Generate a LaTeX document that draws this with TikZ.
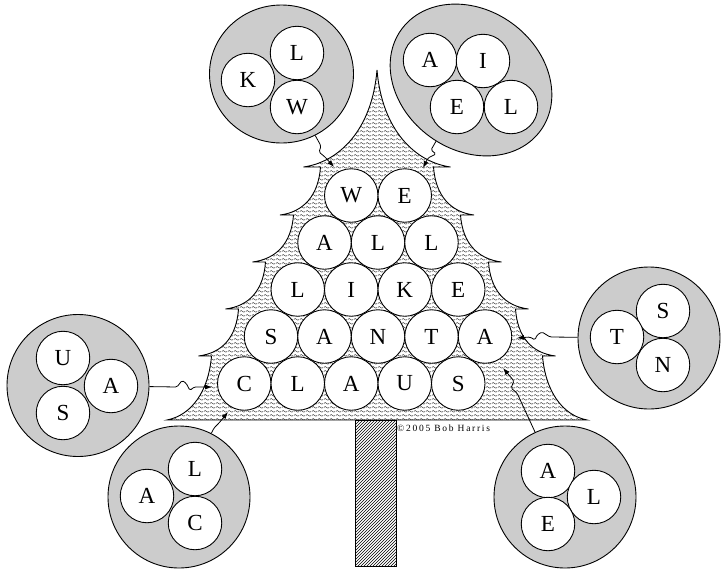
\documentclass[tikz,border=0pt]{standalone}
\usepackage{fontspec}
\setmainfont{Liberation Serif}
\usepackage{tikz}
\usetikzlibrary{shapes,shapes.geometric,arrows.meta,patterns,patterns.meta}
\tikzdeclarepattern{
  name=waves,
  type=uncolored,
  bounding box={(0pt,0pt) and (6pt,4pt)},
  tile size={(6pt,4pt)},
  code={
    \draw[line width=0.5pt] (0pt,2pt) .. controls (1.5pt,3.4pt) .. (3pt,2pt) .. controls (4.5pt,0.6pt) .. (6pt,2pt);
  }
}
\tikzset{
  circL/.style={ draw, circle, fill=white, line width=0.9pt, minimum size=53.5pt, inner sep=0pt, font=\fontsize{23}{23}\selectfont }
}
\tikzset{
  circG/.style={ draw, circle, fill=black!20, line width=0.9pt, minimum size=142pt, inner sep=0pt }
}
\tikzset{
  ellG/.style={ draw, ellipse, fill=black!20, line width=0.9pt, inner sep=0pt }
}
\tikzset{
  wig/.style={ line width=0.8pt, rounded corners=1.5pt, -{Latex[length=7pt,width=5pt]} }
}

\begin{document}
\begin{tikzpicture}[x=1pt, y=-1pt]
      \useasboundingbox (0,0) rectangle (728,576);
      % tree
      \draw[line width=0.9pt, pattern=waves, pattern color=black!90]
        (377,70) .. controls (382,130) and (415,162) .. (450.5,167) -- (433.5,167)
        .. controls +(2,28) and +(-24,-3) .. (474,215) -- (460.5,215)
        .. controls +(2,28) and +(-24,-3) .. (501.5,262) -- (488.5,262)
        .. controls +(2,28) and +(-24,-3) .. (528.5,309) -- (515.5,309)
        .. controls +(2,28) and +(-24,-3) .. (555.5,356) -- (542.5,356)
        .. controls +(3,35) and +(-25,-5) .. (587,420) -- (167,420)
        .. controls +(25,-5) and +(-3,35) .. (211.5,356) -- (198.5,356)
        .. controls +(24,-3) and +(-2,28) .. (238.5,309) -- (225.5,309)
        .. controls +(24,-3) and +(-2,28) .. (265.5,262) -- (252.5,262)
        .. controls +(24,-3) and +(-2,28) .. (293.5,215) -- (280,215)
        .. controls +(24,-3) and +(-2,28) .. (320.5,167) -- (303.5,167)
        .. controls (339,162) and (372,130) .. (377,70) -- cycle;
      \draw[line width=0.9pt, pattern=north east lines] (355,420) rectangle (396,566);
      \node[anchor=base west, inner sep=0pt, font=\fontsize{9.5}{10}\selectfont\addfontfeature{LetterSpace=18}] (copy) at (397,431) {\textcopyright2005 Bob Harris};
      % letters on the tree
      \node[circL] (we1) at (351.25,195.5) {W};
      \node[circL] (we2) at (404.75,195.5) {E};
      \node[circL] (all1) at (324.5,242.5) {A};
      \node[circL] (all2) at (378,242.5) {L};
      \node[circL] (all3) at (431.5,242.5) {L};
      \node[circL] (like1) at (297.75,289.5) {L};
      \node[circL] (like2) at (351.25,289.5) {I};
      \node[circL] (like3) at (404.75,289.5) {K};
      \node[circL] (like4) at (458.25,289.5) {E};
      \node[circL] (santa1) at (271,336.5) {S};
      \node[circL] (santa2) at (324.5,336.5) {A};
      \node[circL] (santa3) at (378,336.5) {N};
      \node[circL] (santa4) at (431.5,336.5) {T};
      \node[circL] (santa5) at (485,336.5) {A};
      \node[circL] (claus1) at (244.25,383.5) {C};
      \node[circL] (claus2) at (297.75,383.5) {L};
      \node[circL] (claus3) at (351.25,383.5) {A};
      \node[circL] (claus4) at (404.75,383.5) {U};
      \node[circL] (claus5) at (458.25,383.5) {S};
      % grey clusters
      \node[ellG, minimum width=144pt, minimum height=138pt] (klw) at (281.5,74) {};
      \node[circL] (klwL) at (297,53) {L};
      \node[circL] (klwK) at (248,80) {K};
      \node[circL] (klwW) at (297,107) {W};
      \node[ellG, minimum width=172pt, minimum height=140pt, rotate=-36] (aiel) at (471,80) {};
      \node[circL] (aielA) at (430,60) {A};
      \node[circL] (aielI) at (483,61) {I};
      \node[circL] (aielE) at (457,107) {E};
      \node[circL] (aielL) at (511,107) {L};
      \node[circG] (tsn) at (649,338) {};
      \node[circL] (tsnS) at (663,311) {S};
      \node[circL] (tsnT) at (617,337) {T};
      \node[circL] (tsnN) at (663,365) {N};
      \node[circG] (usa) at (78,385.5) {};
      \node[circL] (usaU) at (63,358) {U};
      \node[circL] (usaA) at (111,386) {A};
      \node[circL] (usaS) at (63,413) {S};
      \node[circG] (lac) at (179,497) {};
      \node[circL] (lacL) at (195,469) {L};
      \node[circL] (lacA) at (147,496) {A};
      \node[circL] (lacC) at (195,523) {C};
      \node[circG] (ale) at (565,497) {};
      \node[circL] (aleA) at (548,471) {A};
      \node[circL] (aleL) at (594,497) {L};
      \node[circL] (aleE) at (548,524) {E};
      % wiggly arrows
      \coordinate (toKLW) at (334,167);
      \coordinate (toAIEL) at (423,168);
      \coordinate (toTSN) at (517,338);
      \coordinate (toALE) at (503,368);
      \coordinate (toUSA) at (212,387);
      \coordinate (toLAC) at (228,412);
      \draw[wig] (klw) -- (321,146) -- (319,152) -- (325,157) -- (toKLW);
      \draw[wig] (aiel) -- (431,150) -- (436,154) -- (428,158) -- (toAIEL);
      \draw[wig] (tsn) -- (550,337) -- (542,332) -- (537,335) -- (535,340) -- (530,337) -- (toTSN);
      \draw[wig] (ale) -- (517,393) -- (511,388) -- (514,381) -- (toALE);
      \draw[wig] (usa) -- (177,387) -- (182,380.5) -- (186,383) -- (190,390.5) -- (194,387) -- (toUSA);
      \draw[wig] (lac) -- (214,428) -- (219,423) -- (toLAC);
    \end{tikzpicture}
\end{document}
